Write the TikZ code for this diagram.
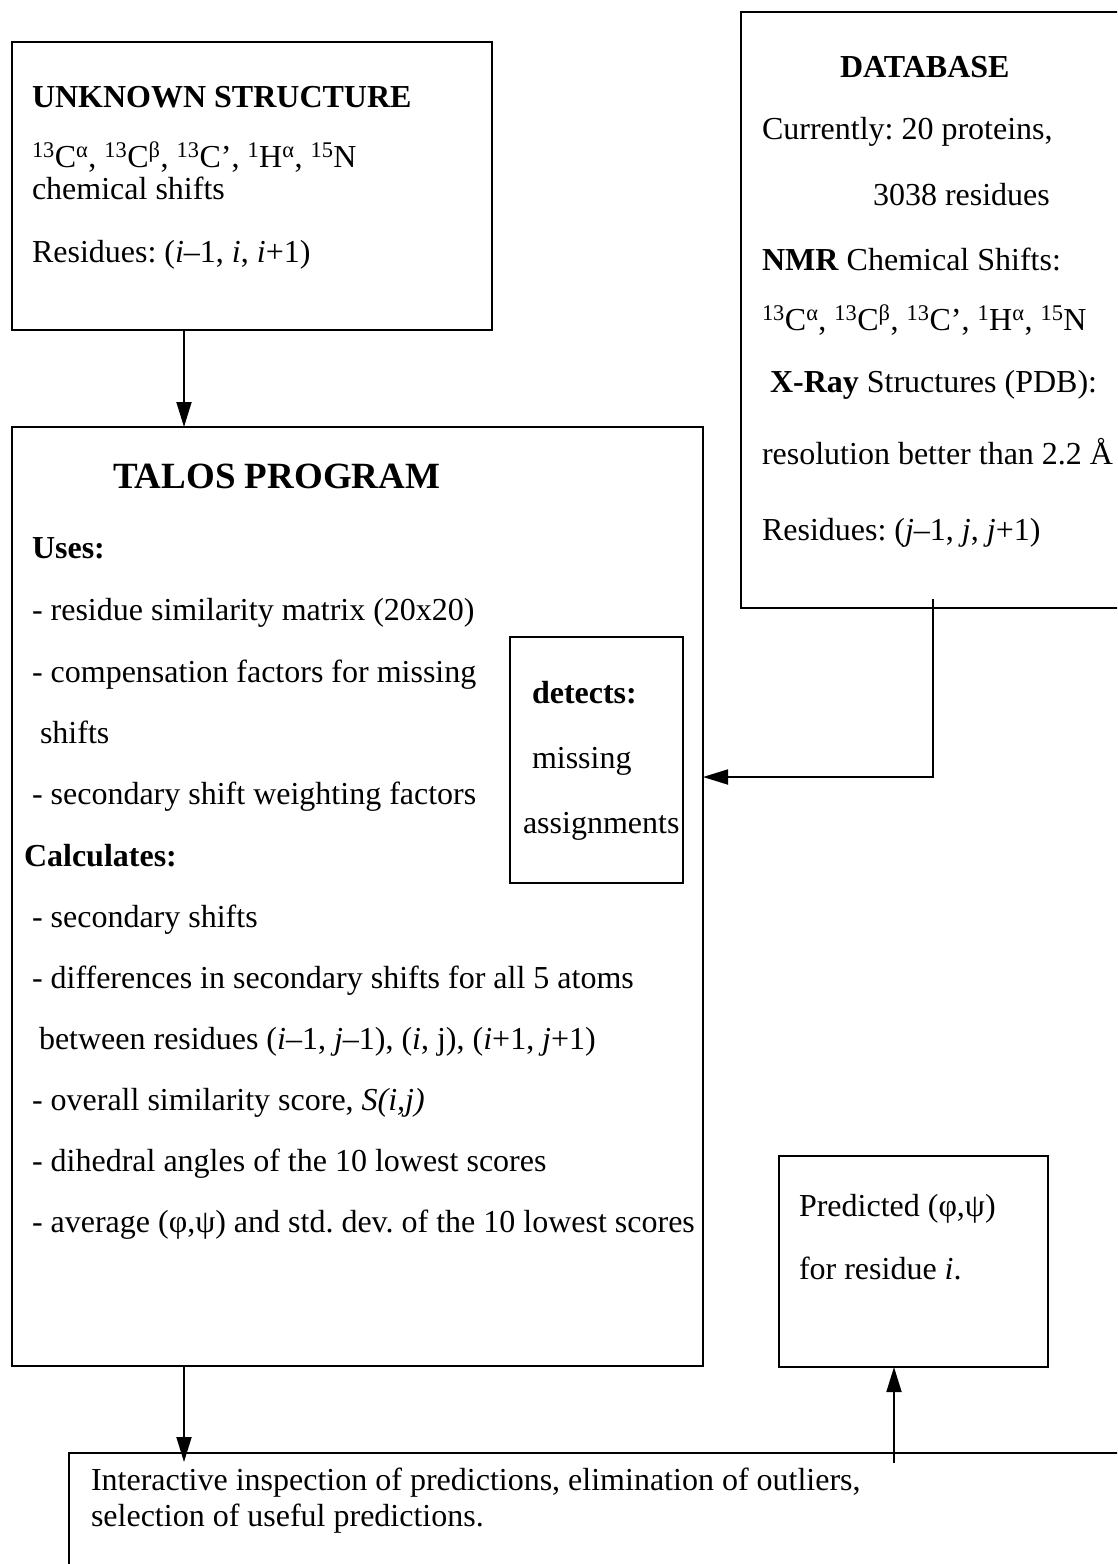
\documentclass[tikz,border=0pt]{standalone}
\usepackage{fontspec}
\setmainfont{Liberation Serif}
\usetikzlibrary{arrows.meta}
\frenchspacing
\newcommand\myshifts{\textsuperscript{13}C\textsuperscript{α}, \textsuperscript{13}C\textsuperscript{β}, \textsuperscript{13}C’, \textsuperscript{1}H\textsuperscript{α}, \textsuperscript{15}N}
\begin{document}
\frenchspacing
\begin{tikzpicture}[x=1pt,y=-1pt,
  box/.style={draw, line width=1.8pt, inner sep=0pt, outer sep=0pt},
  txt/.style={anchor=base west, inner sep=0pt, outer sep=0pt, font=\fontsize{32}{38}\selectfont},
  hd/.style={txt, font=\fontsize{32}{38}\selectfont\bfseries},
  arr/.style={line width=1.8pt, -{Triangle[length=25pt,width=15pt]}}]
\useasboundingbox (0,0) rectangle (1117,1564);
\clip (0,0) rectangle (1117,1564);

% boxes
\node[box, minimum width=480pt, minimum height=288pt] (unk) at (252,186) {};
\node[box, minimum width=389pt, minimum height=596pt] (db) at (935.5,310) {};
\node[box, minimum width=691pt, minimum height=939pt] (talos) at (357.5,896.5) {};
\node[box, minimum width=173pt, minimum height=246pt] (det) at (596.5,760) {};
\node[box, minimum width=269pt, minimum height=211pt] (pred) at (913.5,1261.5) {};
\node[box, minimum width=1071pt, minimum height=147pt] (bot) at (604.5,1526.5) {};

% unknown structure
\node[hd] (u1) at (32,107) {UNKNOWN STRUCTURE};
\node[txt] (u2) at (32,167) {\myshifts};
\node[txt] (u3) at (32,199) {chemical shifts};
\node[txt] (u4) at (32,262) {Residues: (\textit{i}–1, \textit{i}, \textit{i}+1)};

% database
\node[hd] (d1) at (840,77) {DATABASE};
\node[txt] (d2) at (762,139) {Currently: 20 proteins,};
\node[txt] (d3) at (873,205) {3038 residues};
\node[txt] (d4) at (762,270) {\textbf{NMR} Chemical Shifts:};
\node[txt] (d5) at (762,330) {\myshifts};
\node[txt] (d6) at (770,392) {\textbf{X-Ray} Structures (PDB):};
\node[txt] (d7) at (762,464) {resolution better than 2.2 Å};
\node[txt] (d8) at (762,540) {Residues: (\textit{j}–1, \textit{j}, \textit{j}+1)};

% talos
\node[txt, font=\fontsize{37}{44}\selectfont\bfseries] (t0) at (113,488) {TALOS PROGRAM};
\node[hd] (t1) at (32,558) {Uses:};
\node[txt] (t2) at (32,620) {- residue similarity matrix (20x20)};
\node[txt] (t3) at (32,682) {- compensation factors for missing};
\node[txt] (t4) at (40,743) {shifts};
\node[txt] (t5) at (32,804) {- secondary shift weighting factors};
\node[hd] (t6) at (24,866) {Calculates:};
\node[txt] (t7) at (32,927) {- secondary shifts};
\node[txt] (t8) at (32,988) {- differences in secondary shifts for all 5 atoms};
\node[txt] (t9) at (39,1049) {between residues (\textit{i}–1, \textit{j}–1), (\textit{i}, j), (\textit{i}+1, \textit{j}+1)};
\node[txt] (t10) at (32,1110) {- overall similarity score, \textit{S(i,j)}};
\node[txt] (t11) at (32,1171) {- dihedral angles of the 10 lowest scores};
\node[txt] (t12) at (32,1232) {- average (φ,ψ) and std. dev. of the 10 lowest scores};

% detects
\node[hd] (e1) at (532,703) {detects:};
\node[txt] (e2) at (532,768) {missing};
\node[txt] (e3) at (523,833) {assignments};

% predicted
\node[txt] (p1) at (799,1216) {Predicted (φ,ψ)};
\node[txt] (p2) at (799,1279) {for residue \textit{i}.};

% bottom
\node[txt] (b1) at (91,1490) {Interactive inspection of predictions, elimination of outliers,};
\node[txt] (b2) at (91,1526) {selection of useful predictions.};

% connectors
\coordinate (ax) at (184,0);
\coordinate (c1) at (933,599);
\coordinate (c2) at (933,777);
\coordinate (bx) at (894,1463);
\draw[arr] (unk.south -| ax) -- (talos.north -| ax);
\draw[arr] (talos.south -| ax) -- ([yshift=-9pt]bot.north -| ax);
\draw[arr] (c1) -- (c2) -- (c2 -| talos.east);
\draw[arr] (bx) -- (pred.south -| bx);
\end{tikzpicture}
\end{document}
